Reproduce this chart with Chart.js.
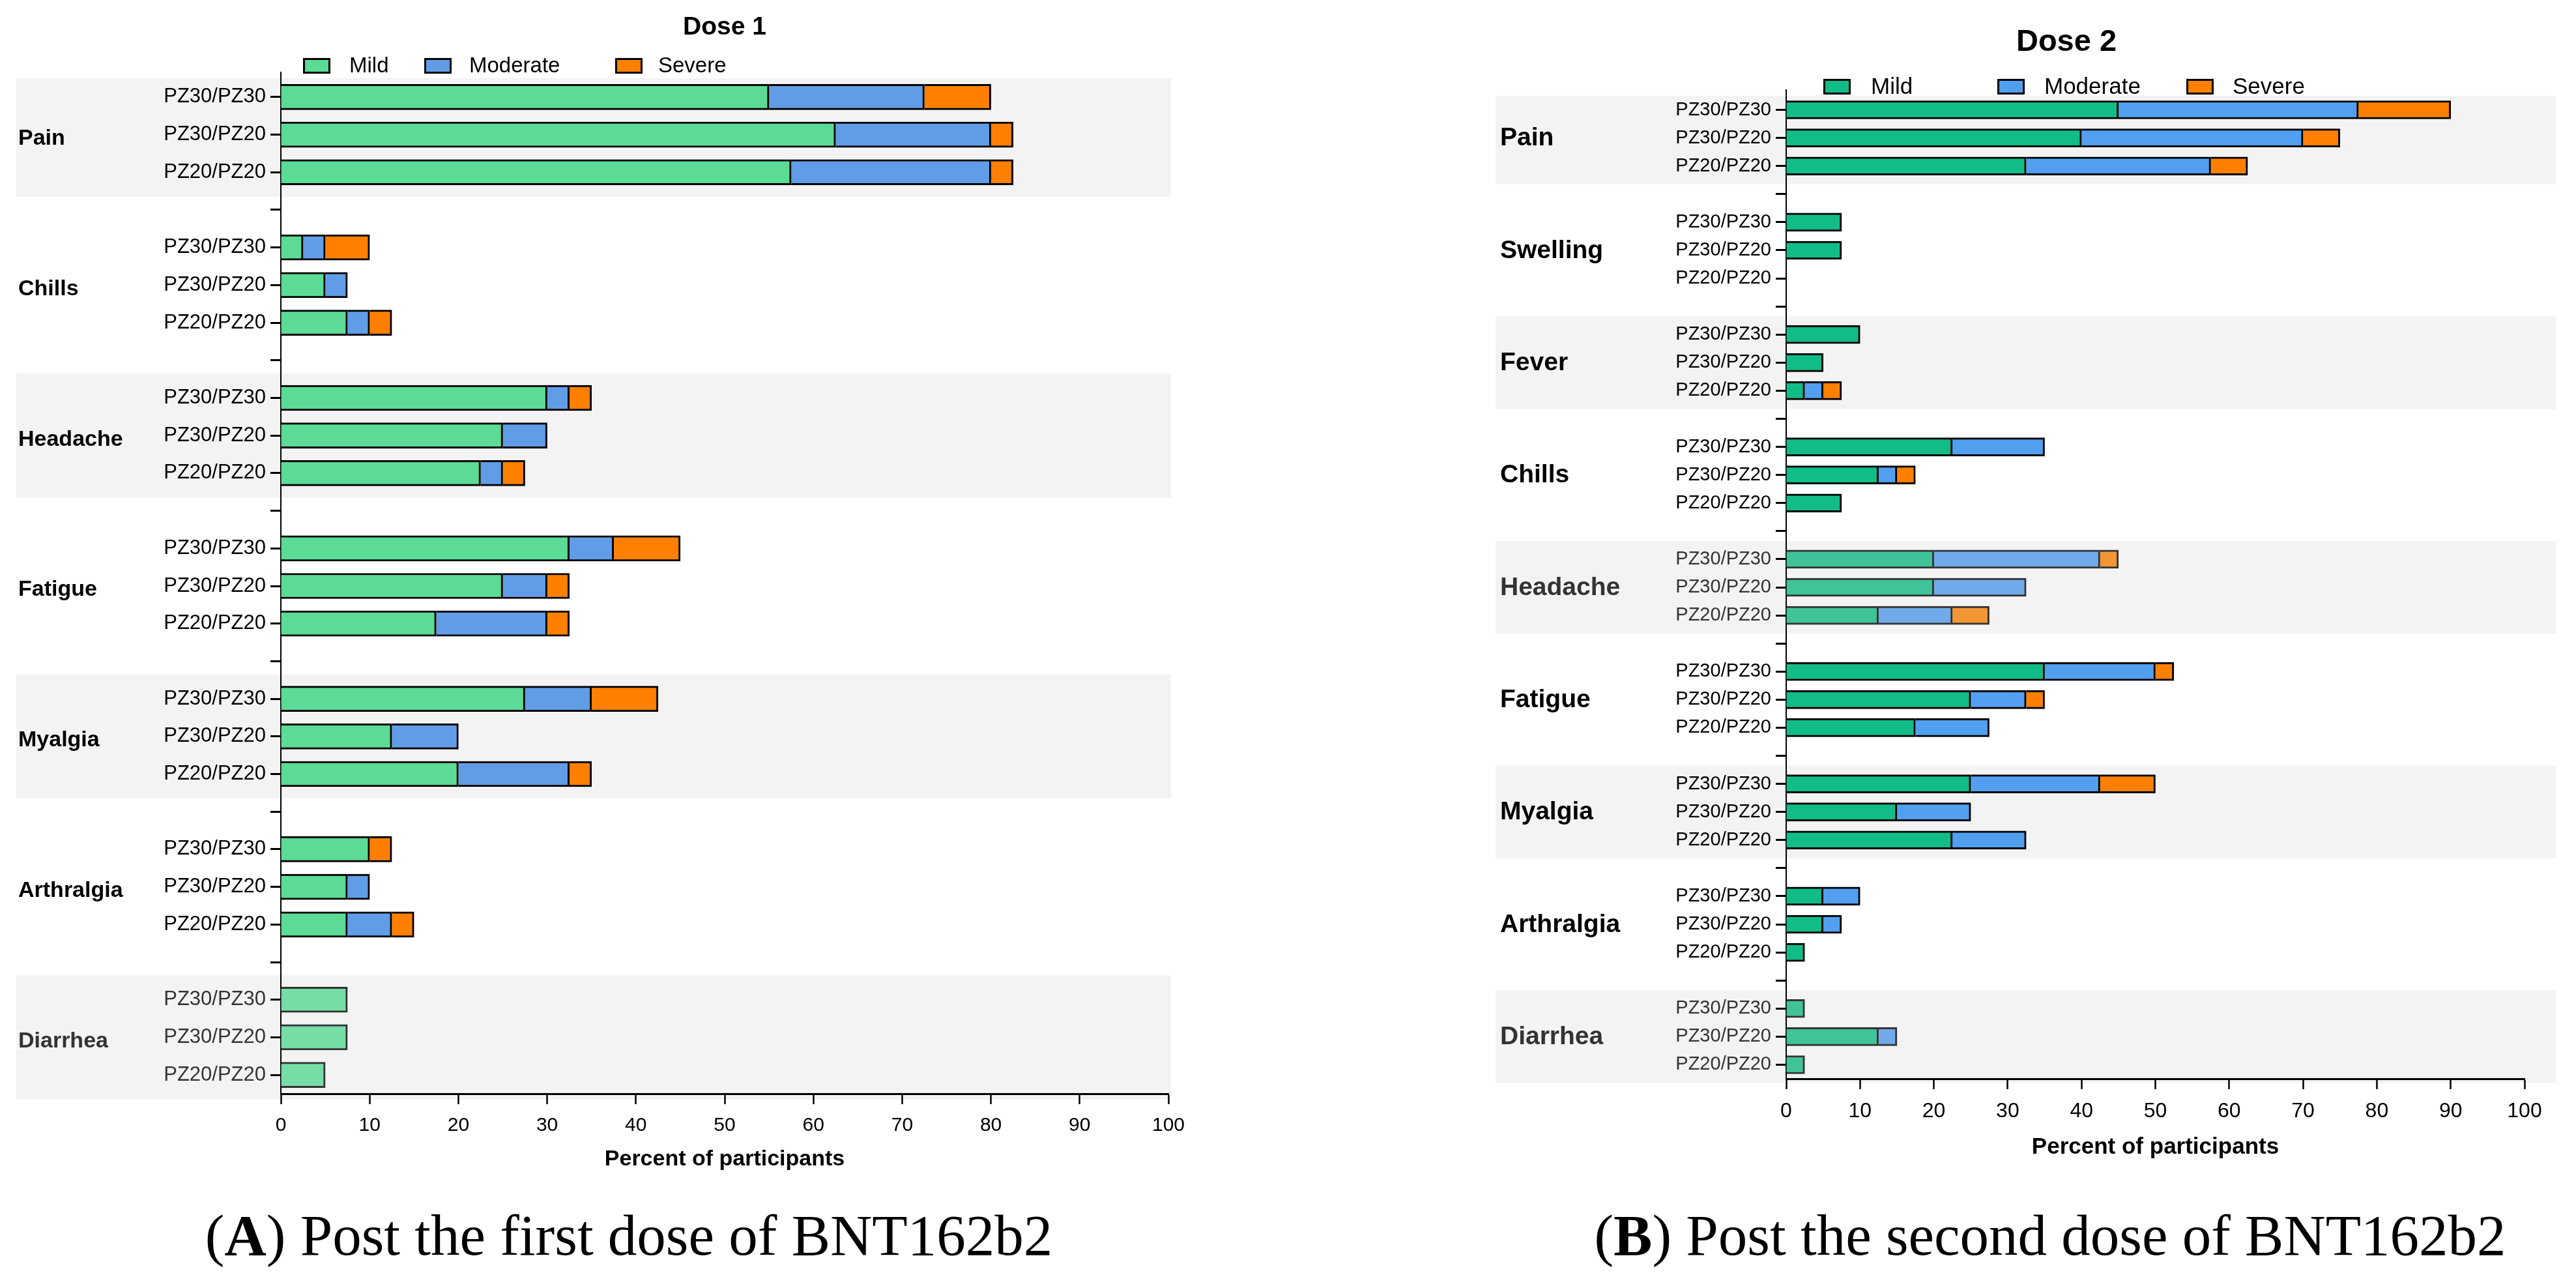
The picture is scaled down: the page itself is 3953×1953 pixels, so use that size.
<!DOCTYPE html>
<html>
<head>
<meta charset="utf-8">
<script src="https://cdn.jsdelivr.net/npm/chart.js@4.4.1/dist/chart.umd.min.js"></script>
<style>
  body { margin: 0; background: #fff; width: 3953px; height: 1953px; overflow: hidden; position: relative; }
  canvas { position: absolute; top: 0; }
  #c1 { left: 0; }
  #c2 { left: 2250px; }
  .cap { position: absolute; top: 1845px; height: 100px; line-height: 100px; text-align: center;
         font-family: "Liberation Serif", "Times New Roman", serif; font-size: 89px; color: #000; white-space: nowrap; }
</style>
</head>
<body>
<canvas id="c1" width="1900" height="1830"></canvas>
<canvas id="c2" width="1703" height="1830"></canvas>
<div class="cap" style="left:15px;width:1900px">(<b>A</b>) Post the first dose of BNT162b2</div>
<div class="cap" style="left:2346px;width:1600px">(<b>B</b>) Post the second dose of BNT162b2</div>
<script>
// groups within each symptom (top to bottom)
const groups = ["PZ30/PZ30", "PZ30/PZ20", "PZ20/PZ20"];
const severities = ["Mild", "Moderate", "Severe"];

// Dose 1 - values are stacked segment sizes, 3 per symptom in group order
const dose1Symptoms = ["Pain", "Chills", "Headache", "Fatigue", "Myalgia", "Arthralgia", "Diarrhea"];
const dose1Mild     = [55, 62.5, 57.5,  2.5, 5, 7.5,  30, 25, 22.5,  32.5, 25, 17.5,  27.5, 12.5, 20,  10, 7.5, 7.5,  7.5, 7.5, 5];
const dose1Moderate = [17.5, 17.5, 22.5,  2.5, 2.5, 2.5,  2.5, 5, 2.5,  5, 5, 12.5,  7.5, 7.5, 12.5,  0, 2.5, 5,  0, 0, 0];
const dose1Severe   = [7.5, 2.5, 2.5,  5, 0, 2.5,  2.5, 0, 2.5,  7.5, 2.5, 2.5,  7.5, 0, 2.5,  2.5, 0, 2.5,  0, 0, 0];
const dose1Faded    = ["Diarrhea"];

// Dose 2
const dose2Symptoms = ["Pain", "Swelling", "Fever", "Chills", "Headache", "Fatigue", "Myalgia", "Arthralgia", "Diarrhea"];
const dose2Mild     = [45, 40, 32.5,  7.5, 7.5, 0,  10, 5, 2.5,  22.5, 12.5, 7.5,  20, 20, 12.5,  35, 25, 17.5,  25, 15, 22.5,  5, 5, 2.5,  2.5, 12.5, 2.5];
const dose2Moderate = [32.5, 30, 25,  0, 0, 0,  0, 0, 2.5,  12.5, 2.5, 0,  22.5, 12.5, 10,  15, 7.5, 10,  17.5, 10, 10,  5, 2.5, 0,  0, 2.5, 0];
const dose2Severe   = [12.5, 5, 5,  0, 0, 0,  0, 0, 2.5,  0, 2.5, 0,  2.5, 0, 5,  2.5, 2.5, 0,  7.5, 0, 0,  0, 0, 0,  0, 0, 0];
const dose2Faded    = ["Headache", "Diarrhea"];

Chart.defaults.font.family = "'Liberation Sans', Arial, sans-serif";
Chart.defaults.color = "#000";

// draws shaded bands, symptom names, title and legend
const decor = {
  id: "decor",
  beforeDraw(chart, args, o) {
    const { ctx, chartArea, scales: { y } } = chart;
    const step = y.getPixelForValue(1) - y.getPixelForValue(0);
    ctx.save();
    ctx.fillStyle = "#f3f3f3";
    o.symptoms.forEach((s, i) => {
      if (i % 2) return;
      const first = i * 4;
      const top = Math.max(chartArea.top, y.getPixelForValue(first) - 0.65 * step);
      const bottom = y.getPixelForValue(first + 2) + 0.65 * step;
      ctx.fillRect(o.bandLeft, top, o.bandRight - o.bandLeft, bottom - top);
    });
    // axis line pokes a little above the plot
    ctx.fillStyle = "#000";
    ctx.fillRect(chartArea.left - 1, chartArea.top - 10, 2, 10);
    ctx.restore();
  },
  afterDraw(chart, args, o) {
    const { ctx, scales: { y } } = chart;
    ctx.save();
    ctx.textBaseline = "middle";
    ctx.textAlign = "left";
    ctx.font = "bold " + o.catSize + "px 'Liberation Sans', Arial, sans-serif";
    o.symptoms.forEach((s, i) => {
      ctx.fillStyle = o.faded.includes(s) ? "#333" : "#000";
      ctx.fillText(s, o.catX, y.getPixelForValue(i * 4 + 1) + o.catDy);
    });
    // title
    ctx.fillStyle = "#000";
    ctx.textAlign = "center";
    ctx.font = "bold " + o.titleSize + "px 'Liberation Sans', Arial, sans-serif";
    ctx.fillText(o.title, o.titleX, o.titleY);
    // legend
    ctx.textAlign = "left";
    ctx.font = o.legendSize + "px 'Liberation Sans', Arial, sans-serif";
    severities.forEach((name, k) => {
      const bx = o.legendBoxX[k], by = o.legendY - 11;
      ctx.fillStyle = "#000";
      ctx.fillRect(bx, by, 42, 24);
      ctx.fillStyle = o.colors[k];
      ctx.fillRect(bx + 3, by + 3, 36, 18);
      ctx.fillStyle = "#000";
      ctx.fillText(name, o.legendTextX[k], o.legendY + 2);
    });
    ctx.restore();
  }
};

function makeChart(id, cfg) {
  // rows: 3 groups per symptom, one empty row between symptoms
  const labels = [], rowSym = [], rowIdx = [];
  cfg.symptoms.forEach((s, i) => {
    if (i > 0) { labels.push(""); rowSym.push(null); rowIdx.push(-1); }
    groups.forEach((g, j) => { labels.push(g); rowSym.push(s); rowIdx.push(i * 3 + j); });
  });
  const isFaded = r => rowSym[r] !== null && cfg.faded.includes(rowSym[r]);
  const series = [cfg.mild, cfg.moderate, cfg.severe];
  const datasets = series.map((vals, k) => ({
    label: severities[k],
    data: rowIdx.map(r => (r < 0 ? null : vals[r])),
    backgroundColor: labels.map((l, r) => (isFaded(r) ? cfg.fadedColors[k] : cfg.colors[k])),
    borderColor: labels.map((l, r) => (isFaded(r) ? "#333" : "#000")),
    borderWidth: { top: 3, bottom: 3, left: 0, right: 3 },
    borderSkipped: false,
    barThickness: cfg.barThickness
  }));

  return new Chart(document.getElementById(id), {
    type: "bar",
    data: { labels, datasets },
    options: {
      indexAxis: "y",
      responsive: false,
      animation: false,
      layout: { padding: { top: cfg.top, right: cfg.right, left: 0, bottom: 0 } },
      plugins: {
        legend: { display: false },
        tooltip: { enabled: false },
        decor: {
          symptoms: cfg.symptoms, faded: cfg.faded, colors: cfg.colors,
          bandLeft: cfg.bandLeft, bandRight: cfg.bandRight,
          catX: cfg.catX, catDy: cfg.catDy, catSize: cfg.catSize,
          title: cfg.title, titleX: cfg.titleX, titleY: cfg.titleY, titleSize: cfg.titleSize,
          legendY: cfg.legendY, legendBoxX: cfg.legendBoxX, legendTextX: cfg.legendTextX, legendSize: cfg.legendSize
        }
      },
      scales: {
        x: {
          stacked: true, min: 0, max: 100,
          ticks: { stepSize: 10, font: { size: cfg.xTickSize }, padding: 15, color: "#000" },
          grid: { drawOnChartArea: false, tickLength: 16, tickWidth: 2.5, tickColor: "#000" },
          border: { display: true, color: "#000", width: 3 },
          title: { display: true, text: "Percent of participants", font: { size: cfg.xTitleSize, weight: "bold" },
                   color: "#000", padding: { top: 0, bottom: cfg.xTitlePad } },
          afterFit: s => { s.height = cfg.xHeight; }
        },
        y: {
          stacked: true,
          ticks: { autoSkip: false, padding: 7, font: { size: cfg.yTickSize },
                   color: c => (isFaded(c.index) ? "#333" : "#000") },
          grid: { drawOnChartArea: false, offset: false, tickLength: 16, tickWidth: 3, tickColor: "#000" },
          border: { display: true, color: "#000", width: 2 },
          afterFit: s => { s.width = cfg.yWidth; }
        }
      }
    },
    plugins: [decor]
  });
}

makeChart("c1", {
  symptoms: dose1Symptoms, mild: dose1Mild, moderate: dose1Moderate, severe: dose1Severe, faded: dose1Faded,
  colors: ["#5bdb95", "#609de6", "#ff8000"], fadedColors: ["#77dda6", "#7fb0ea", "#f39634"],
  barThickness: 39, top: 120, right: 107, yWidth: 431, xHeight: 152,
  bandLeft: 25, bandRight: 1797, catX: 28, catDy: 6, catSize: 34,
  title: "Dose 1", titleX: 1112, titleY: 42, titleSize: 39,
  legendY: 100, legendBoxX: [465, 651, 944], legendTextX: [536, 720, 1010], legendSize: 33,
  xTickSize: 30, yTickSize: 31, xTitleSize: 34, xTitlePad: 31
});

makeChart("c2", {
  symptoms: dose2Symptoms, mild: dose2Mild, moderate: dose2Moderate, severe: dose2Severe, faded: dose2Faded,
  colors: ["#12bc87", "#529ff0", "#ff8000"], fadedColors: ["#41c39a", "#71aaea", "#f39634"],
  barThickness: 28, top: 147, right: 79, yWidth: 491, xHeight: 175,
  bandLeft: 45, bandRight: 1672, catX: 52, catDy: 1, catSize: 39,
  title: "Dose 2", titleX: 921, titleY: 65, titleSize: 47,
  legendY: 132, legendBoxX: [548, 815, 1105], legendTextX: [621, 887, 1176], legendSize: 35,
  xTickSize: 32, yTickSize: 29, xTitleSize: 35, xTitlePad: 49
});
</script>
</body>
</html>
